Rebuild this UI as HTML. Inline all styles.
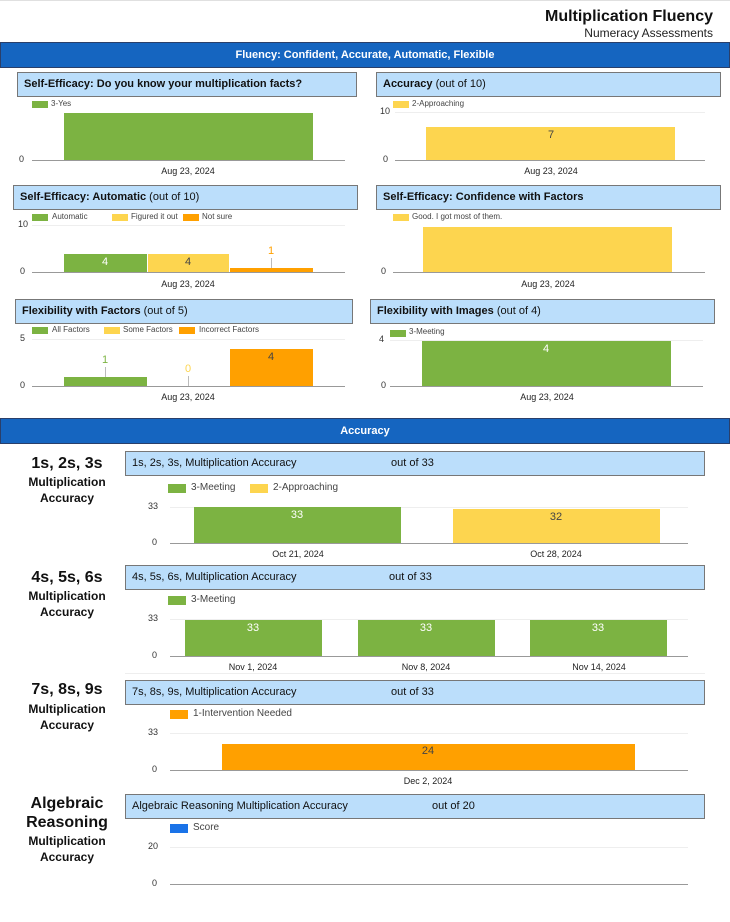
<!DOCTYPE html>
<html><head><meta charset="utf-8"><style>
body{margin:0;width:730px;height:922px;position:relative;background:#fff;font-family:"Liberation Sans",sans-serif;overflow:hidden}
div{position:absolute;box-sizing:border-box}
.bb{left:0;width:730px;height:26px;background:#1565c0;border:1px solid #2a3f6a;color:#fff;font-weight:bold;font-size:11px;text-align:center;line-height:24px}
.tb{height:25px;background:#bbdefb;border:1px solid #777;font-size:11px;line-height:23px;padding-left:6px;color:#111;white-space:nowrap}
.tb b{font-weight:bold}
.sw{width:16px;height:7px}
.lg{font-size:8px;color:#444;white-space:nowrap}
.ax{height:1px;background:#999}
.gr{height:1px;background:#eee}
.t{font-size:9px;color:#333;white-space:nowrap}
.dt{font-size:9px;color:#222;width:120px;text-align:center;white-space:nowrap}
.bl{font-size:11px;text-align:center;white-space:nowrap}
.g{background:#7cb342}.y{background:#fdd54f}.o{background:#ffa000}
.sl{width:134px;text-align:center;font-weight:bold;color:#111}
</style></head><body>
<div style="left:0;top:0;width:730px;height:1px;background:#e0e0e0"></div>
<div style="right:17px;top:8px;font-size:16px;font-weight:bold;color:#111">Multiplication Fluency</div>
<div style="right:17px;top:26px;font-size:12px;color:#222">Numeracy Assessments</div>
<div class="bb" style="top:42px">Fluency: Confident, Accurate, Automatic, Flexible</div>

<!-- chart 1 -->
<div class="tb" style="left:17px;top:72px;width:340px"><b>Self-Efficacy: Do you know your multiplication facts?</b></div>
<div class="sw g" style="left:32px;top:101px"></div><div class="lg" style="left:51px;top:99px">3-Yes</div>
<div class="g" style="left:64px;top:113px;width:249px;height:47px"></div>
<div class="ax" style="left:32px;top:160px;width:313px"></div>
<div class="t" style="left:19px;top:154px">0</div>
<div class="dt" style="left:128px;top:166px">Aug 23, 2024</div>

<!-- chart 2 -->
<div class="tb" style="left:376px;top:72px;width:345px"><b>Accuracy</b> (out of 10)</div>
<div class="sw y" style="left:393px;top:101px"></div><div class="lg" style="left:412px;top:99px">2-Approaching</div>
<div class="gr" style="left:395px;top:112px;width:310px"></div>
<div class="t" style="left:380px;top:106px">10</div>
<div class="y" style="left:426px;top:127px;width:249px;height:33px"></div>
<div class="bl" style="left:526px;top:129px;width:50px;color:#444">7</div>
<div class="ax" style="left:395px;top:160px;width:310px"></div>
<div class="t" style="left:383px;top:154px">0</div>
<div class="dt" style="left:491px;top:166px">Aug 23, 2024</div>

<!-- chart 3 -->
<div class="tb" style="left:13px;top:185px;width:345px"><b>Self-Efficacy: Automatic</b> (out of 10)</div>
<div class="sw g" style="left:32px;top:214px"></div><div class="lg" style="left:52px;top:212px">Automatic</div>
<div class="sw y" style="left:112px;top:214px"></div><div class="lg" style="left:131px;top:212px">Figured it out</div>
<div class="sw o" style="left:183px;top:214px"></div><div class="lg" style="left:202px;top:212px">Not sure</div>
<div class="gr" style="left:32px;top:225px;width:313px"></div>
<div class="t" style="left:18px;top:219px">10</div>
<div class="g" style="left:64px;top:254px;width:83px;height:18px"></div>
<div class="bl" style="left:80px;top:256px;width:50px;color:#fff">4</div>
<div class="y" style="left:148px;top:254px;width:81px;height:18px"></div>
<div class="bl" style="left:163px;top:256px;width:50px;color:#444">4</div>
<div class="o" style="left:230px;top:268px;width:83px;height:4px"></div>
<div style="left:271px;top:258px;width:1px;height:10px;background:#bbb"></div>
<div class="bl" style="left:246px;top:245px;width:50px;color:#ffa000">1</div>
<div class="ax" style="left:32px;top:272px;width:313px"></div>
<div class="t" style="left:20px;top:266px">0</div>
<div class="dt" style="left:128px;top:279px">Aug 23, 2024</div>

<!-- chart 4 -->
<div class="tb" style="left:376px;top:185px;width:345px"><b>Self-Efficacy: Confidence with Factors</b></div>
<div class="sw y" style="left:393px;top:214px"></div><div class="lg" style="left:412px;top:212px">Good. I got most of them.</div>
<div class="y" style="left:423px;top:227px;width:249px;height:45px"></div>
<div class="ax" style="left:393px;top:272px;width:312px"></div>
<div class="t" style="left:381px;top:266px">0</div>
<div class="dt" style="left:488px;top:279px">Aug 23, 2024</div>

<!-- chart 5 -->
<div class="tb" style="left:15px;top:299px;width:338px"><b>Flexibility with Factors</b> (out of 5)</div>
<div class="sw g" style="left:32px;top:327px"></div><div class="lg" style="left:52px;top:325px">All Factors</div>
<div class="sw y" style="left:104px;top:327px"></div><div class="lg" style="left:123px;top:325px">Some Factors</div>
<div class="sw o" style="left:179px;top:327px"></div><div class="lg" style="left:199px;top:325px">Incorrect Factors</div>
<div class="gr" style="left:32px;top:339px;width:313px"></div>
<div class="t" style="left:20px;top:333px">5</div>
<div class="g" style="left:64px;top:377px;width:83px;height:9px"></div>
<div style="left:105px;top:367px;width:1px;height:10px;background:#bbb"></div>
<div class="bl" style="left:80px;top:354px;width:50px;color:#7cb342">1</div>
<div style="left:188px;top:376px;width:1px;height:10px;background:#bbb"></div>
<div class="bl" style="left:163px;top:363px;width:50px;color:#fdd54f">0</div>
<div class="o" style="left:230px;top:349px;width:83px;height:37px"></div>
<div class="bl" style="left:246px;top:351px;width:50px;color:#444">4</div>
<div class="ax" style="left:32px;top:386px;width:313px"></div>
<div class="t" style="left:20px;top:380px">0</div>
<div class="dt" style="left:128px;top:392px">Aug 23, 2024</div>

<!-- chart 6 -->
<div class="tb" style="left:370px;top:299px;width:345px"><b>Flexibility with Images</b> (out of 4)</div>
<div class="sw g" style="left:390px;top:330px"></div><div class="lg" style="left:409px;top:327px">3-Meeting</div>
<div class="gr" style="left:390px;top:340px;width:313px"></div>
<div class="t" style="left:379px;top:334px">4</div>
<div class="g" style="left:422px;top:341px;width:249px;height:45px"></div>
<div class="bl" style="left:521px;top:343px;width:50px;color:#fff">4</div>
<div class="ax" style="left:390px;top:386px;width:313px"></div>
<div class="t" style="left:381px;top:380px">0</div>
<div class="dt" style="left:487px;top:392px">Aug 23, 2024</div>

<div class="bb" style="top:418px">Accuracy</div>

<!-- section 1 -->
<div class="sl" style="left:0;top:455px;font-size:16px">1s, 2s, 3s</div>
<div class="sl" style="left:0;top:474px;font-size:12px;line-height:16px">Multiplication<br>Accuracy</div>
<div class="tb" style="left:125px;top:451px;width:580px">1s, 2s, 3s, Multiplication Accuracy<span style="position:absolute;left:265px">out of 33</span></div>
<div class="sw g" style="left:168px;top:484px;width:18px;height:9px"></div><div class="lg" style="left:191px;top:482px;font-size:10px">3-Meeting</div>
<div class="sw y" style="left:250px;top:484px;width:18px;height:9px"></div><div class="lg" style="left:273px;top:482px;font-size:10px">2-Approaching</div>
<div class="gr" style="left:170px;top:507px;width:518px"></div>
<div class="t" style="left:148px;top:501px">33</div>
<div class="g" style="left:194px;top:507px;width:207px;height:36px"></div>
<div class="bl" style="left:272px;top:509px;width:50px;color:#fff">33</div>
<div class="y" style="left:453px;top:509px;width:207px;height:34px"></div>
<div class="bl" style="left:531px;top:511px;width:50px;color:#444">32</div>
<div class="ax" style="left:170px;top:543px;width:518px"></div>
<div class="t" style="left:152px;top:537px">0</div>
<div class="dt" style="left:238px;top:549px">Oct 21, 2024</div>
<div class="dt" style="left:496px;top:549px">Oct 28, 2024</div>

<!-- section 2 -->
<div class="sl" style="left:0;top:569px;font-size:16px">4s, 5s, 6s</div>
<div class="sl" style="left:0;top:588px;font-size:12px;line-height:16px">Multiplication<br>Accuracy</div>
<div class="tb" style="left:125px;top:565px;width:580px">4s, 5s, 6s, Multiplication Accuracy<span style="position:absolute;left:263px">out of 33</span></div>
<div class="sw g" style="left:168px;top:596px;width:18px;height:9px"></div><div class="lg" style="left:191px;top:594px;font-size:10px">3-Meeting</div>
<div class="gr" style="left:170px;top:619px;width:518px"></div>
<div class="t" style="left:148px;top:613px">33</div>
<div class="g" style="left:185px;top:620px;width:137px;height:36px"></div>
<div class="bl" style="left:228px;top:622px;width:50px;color:#fff">33</div>
<div class="g" style="left:358px;top:620px;width:137px;height:36px"></div>
<div class="bl" style="left:401px;top:622px;width:50px;color:#fff">33</div>
<div class="g" style="left:530px;top:620px;width:137px;height:36px"></div>
<div class="bl" style="left:573px;top:622px;width:50px;color:#fff">33</div>
<div class="ax" style="left:170px;top:656px;width:518px"></div>
<div class="t" style="left:152px;top:650px">0</div>
<div class="dt" style="left:193px;top:662px">Nov 1, 2024</div>
<div class="dt" style="left:366px;top:662px">Nov 8, 2024</div>
<div class="dt" style="left:539px;top:662px">Nov 14, 2024</div>
<div class="gr" style="left:125px;top:673px;width:580px"></div>

<!-- section 3 -->
<div class="sl" style="left:0;top:681px;font-size:16px">7s, 8s, 9s</div>
<div class="sl" style="left:0;top:701px;font-size:12px;line-height:16px">Multiplication<br>Accuracy</div>
<div class="tb" style="left:125px;top:680px;width:580px">7s, 8s, 9s, Multiplication Accuracy<span style="position:absolute;left:265px">out of 33</span></div>
<div class="sw o" style="left:170px;top:710px;width:18px;height:9px"></div><div class="lg" style="left:193px;top:708px;font-size:10px">1-Intervention Needed</div>
<div class="gr" style="left:170px;top:733px;width:518px"></div>
<div class="t" style="left:148px;top:727px">33</div>
<div class="o" style="left:222px;top:744px;width:413px;height:26px"></div>
<div class="bl" style="left:403px;top:745px;width:50px;color:#444">24</div>
<div class="ax" style="left:170px;top:770px;width:518px"></div>
<div class="t" style="left:152px;top:764px">0</div>
<div class="dt" style="left:368px;top:776px">Dec 2, 2024</div>

<!-- section 4 -->
<div class="sl" style="left:0;top:794px;font-size:16px;line-height:19px">Algebraic<br>Reasoning</div>
<div class="sl" style="left:0;top:833px;font-size:12px;line-height:16px">Multiplication<br>Accuracy</div>
<div class="tb" style="left:125px;top:794px;width:580px">Algebraic Reasoning Multiplication Accuracy<span style="position:absolute;left:306px">out of 20</span></div>
<div class="sw" style="left:170px;top:824px;width:18px;height:9px;background:#1a73e8"></div><div class="lg" style="left:193px;top:822px;font-size:10px">Score</div>
<div class="gr" style="left:170px;top:847px;width:518px"></div>
<div class="t" style="left:148px;top:841px">20</div>
<div class="ax" style="left:170px;top:884px;width:518px"></div>
<div class="t" style="left:152px;top:878px">0</div>
</body></html>
